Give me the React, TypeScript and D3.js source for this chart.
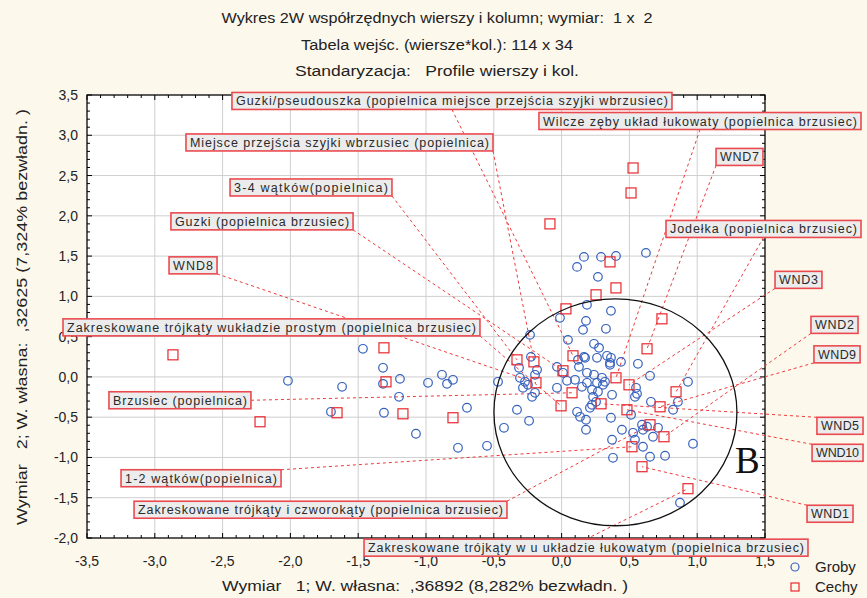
import React from 'react';
import * as d3 from 'd3';

// Row points (Groby)
const groby: [number, number][] = [
  [-2.018, -0.048], [-1.619, -0.123], [-1.465, 0.349], [-1.317, 0.113], [-1.317, -0.086],
  [-1.192, -0.024], [-1.199, -0.247], [-1.701, -0.433], [-1.310, -0.445], [-0.985, -0.073],
  [-0.882, 0.026], [-0.845, -0.086], [-0.801, -0.036], [-0.698, -0.383], [-1.074, -0.706],
  [-0.764, -0.880], [-0.550, -0.855], [-0.469, -0.061], [-0.425, -0.632], [-0.329, -0.408],
  [-0.240, -0.545], [-0.218, -0.247], [-0.314, 0.113], [-0.307, -0.011], [-0.270, -0.061],
  [-0.285, -0.135], [-0.248, -0.098], [-0.196, 0.026], [-0.226, 0.249], [-0.233, 0.522],
  [-0.181, 0.088], [-0.196, -0.197], [0.165, 1.490], [0.291, 1.490], [0.401, 1.502],
  [0.114, 1.366], [0.622, 1.540], [0.268, 1.242], [0.364, 0.820], [0.187, 0.895],
  [0.180, 0.696], [0.158, 0.584], [0.327, 0.597], [-0.012, 0.733], [0.047, 0.460],
  [0.239, 0.411], [0.276, 0.361], [0.165, 0.249], [0.121, 0.212], [0.261, 0.237],
  [0.335, 0.262], [0.364, 0.237], [0.357, 0.150], [0.438, 0.187], [0.563, 0.163],
  [0.652, 0.014], [0.932, -0.061], [-0.034, 0.125], [0.010, 0.051], [0.040, -0.048],
  [0.099, -0.036], [0.128, 0.125], [0.187, 0.051], [0.239, 0.026], [0.261, -0.073],
  [0.298, -0.011], [0.187, -0.073], [0.150, -0.123], [-0.034, -0.135], [0.224, -0.160],
  [0.268, -0.185], [0.372, -0.222], [0.549, -0.135], [0.556, -0.210], [0.541, -0.247],
  [0.254, -0.309], [0.224, -0.346], [0.659, -0.309], [0.858, -0.309], [0.822, -0.408],
  [0.114, -0.433], [0.136, -0.495], [0.180, -0.532], [0.180, -0.656], [0.364, -0.507],
  [0.445, -0.656], [0.372, -0.780], [0.527, -0.694], [0.600, -0.656], [0.630, -0.619],
  [0.711, -0.632], [0.541, -0.780], [0.969, -0.830], [0.652, -0.991], [0.763, -0.979],
  [0.873, -1.562], [0.379, -1.004], [0.593, -0.594], [0.512, -0.470], [0.674, -0.743],
  [0.600, -0.867], [0.320, -0.061], [0.232, -0.247], [0.209, -0.383], [0.305, -0.098],
  [0.173, 0.237], [0.357, 0.175],
];

// Column points (Cechy)
const cechy: [number, number][] = [
  [-2.866, 0.274], [-2.224, -0.557], [-1.656, -0.445], [-1.310, 0.361], [-1.295, -0.061],
  [-1.170, -0.458], [-0.801, -0.507], [-0.086, 1.900], [0.527, 2.594], [0.512, 2.284],
  [0.357, 1.428], [0.401, 1.105], [0.254, 1.019], [0.032, 0.845], [0.740, 0.721],
  [0.630, 0.349], [-0.329, 0.212], [-0.204, 0.187], [0.084, 0.262], [0.010, 0.076],
  [0.401, -0.011], [0.497, -0.098], [-0.189, -0.073], [0.077, -0.197], [0.844, -0.185],
  [-0.004, -0.359], [0.291, -0.334], [0.482, -0.408], [0.726, -0.371], [0.652, -0.594],
  [0.755, -0.743], [0.519, -0.867], [0.593, -1.115], [0.932, -1.388],
];

const labelTexts: string[] = [
  'Guzki/pseudouszka (popielnica miejsce przejścia szyjki wbrzusiec)',
  'Wilcze zęby układ łukowaty (popielnica brzusiec)',
  'Miejsce przejścia szyjki wbrzusiec (popielnica)',
  'WND7',
  '3-4 wątków(popielnica)',
  'Guzki (popielnica brzusiec)',
  'Jodełka (popielnica brzusiec)',
  'WND8',
  'WND3',
  'Zakreskowane trójkąty wukładzie prostym (popielnica brzusiec)',
  'WND2',
  'WND9',
  'Brzusiec (popielnica)',
  'WND5',
  'WND10',
  '1-2 wątków(popielnica)',
  'WND1',
  'Zakreskowane trójkąty i czworokąty (popielnica brzusiec)',
  'Zakreskowane trójkąty w u układzie łukowatym (popielnica brzusiec)',
];
// index (1-based) of the Cechy point each label refers to
const labelTargets: number[] = [19, 21, 18, 16, 17, 20, 25, 23, 22, 26, 31, 29, 24, 27, 28, 32, 33, 30, 34];

// label box placement: [left, right, centre-y] in data units
const labelBoxes: [number, number, number][] = [
  [-2.431, 0.814, 3.426], [-0.167, 2.208, 3.177], [-2.770, -0.506, 2.911], [1.139, 1.485, 2.731],
  [-2.445, -1.251, 2.352], [-2.881, -1.538, 1.931], [0.770, 2.208, 1.837], [-2.895, -2.541, 1.385],
  [1.574, 1.920, 1.205], [-3.677, -0.602, 0.615], [1.839, 2.186, 0.646], [1.861, 2.201, 0.280],
  [-3.338, -2.291, -0.290], [1.883, 2.223, -0.607], [1.847, 2.223, -0.942], [-3.249, -2.069, -1.258],
  [1.810, 2.149, -1.699], [-3.153, -0.403, -1.649], [-1.457, 1.817, -2.120],
];

const xTickValues = [-3.5, -3.0, -2.5, -2.0, -1.5, -1.0, -0.5, 0.0, 0.5, 1.0, 1.5];
const yTickValues = [-2.0, -1.5, -1.0, -0.5, 0.0, 0.5, 1.0, 1.5, 2.0, 2.5, 3.0, 3.5];

const titleLines = [
  'Wykres 2W współrzędnych wierszy i kolumn; wymiar:  1 x  2',
  'Tabela wejśc. (wiersze*kol.): 114 x 34',
  'Standaryzacja:   Profile wierszy i kol.',
];
const xTitle = 'Wymiar   1; W. własna:  ,36892 (8,282% bezwładn. )';
const yTitle = 'Wymiar   2; W. własna:  ,32625 (7,324% bezwładn. )';
const legendItems = ['Groby', 'Cechy'];

const W = 867;
const H = 598;
const SANS = 'Liberation Sans, Arial, sans-serif';
const BLUE = '#3561bd';
const RED = '#e8282e';

const fmt = (v: number) => v.toFixed(1).replace('.', ',');

export default function App() {
  const x = d3.scaleLinear().domain([-3.5, 1.5]).range([87, 765]);
  const y = d3.scaleLinear().domain([-2, 3.5]).range([538, 95]);
  const [x0, x1] = x.range();
  const [y0, y1] = y.range(); // y0 bottom, y1 top

  const minorX = d3.range(-3.5, 1.5001, 0.1);
  const minorY = d3.range(-2, 3.5001, 0.1);

  const boxH = 17;
  const labels = labelTexts.map((t, i) => {
    const [l, r, c] = labelBoxes[i];
    const bx0 = x(l), bx1 = x(r), cy = y(c);
    const by0 = cy - boxH / 2, by1 = cy + boxH / 2;
    const tgt = cechy[labelTargets[i] - 1];
    const tx = x(tgt[0]), ty = y(tgt[1]);
    const mx = (bx0 + bx1) / 2;
    const ax = tx < bx0 ? bx0 : tx > bx1 ? bx1 : mx;
    const ay = ty < by0 ? by0 : ty > by1 ? by1 : cy;
    return { t, bx0, bx1, by0, cy, ax, ay, tx, ty };
  });

  const ellCx = x(0.397), ellCy = y(-0.439);
  const ellRx = x(0.397 + 0.896) - ellCx;
  const ellRy = y(-0.439) - y(-0.439 + 1.409);

  return (
    <div style={{ position: 'absolute', left: 0, top: 0 }}>
      <svg width={W} height={H} style={{ display: 'block' }}>
        <rect x={0} y={0} width={W} height={H} fill="#fdf8ec" />
        {/* titles */}
        {titleLines.map((t, i) => (
          <text key={i} x={437} y={23 + i * 26.5} textAnchor="middle" fontFamily={SANS}
            fontSize={15.5} fill="#222" style={{ whiteSpace: 'pre' }}
            textLength={[431, 272, 284][i]} lengthAdjust="spacingAndGlyphs">{t}</text>
        ))}
        {/* plot area */}
        <rect x={x0} y={y1} width={x1 - x0} height={y0 - y1} fill="#fff" />
        {xTickValues.map((v) => (
          <line key={'gx' + v} x1={x(v)} x2={x(v)} y1={y1} y2={y0} stroke="#cfcfcf" strokeWidth={1} />
        ))}
        {yTickValues.map((v) => (
          <line key={'gy' + v} x1={x0} x2={x1} y1={y(v)} y2={y(v)} stroke="#cfcfcf" strokeWidth={1} />
        ))}
        {/* minor ticks */}
        {minorX.map((v, i) => {
          const len = i % 5 === 0 ? 5 : 3;
          return (
            <g key={'mx' + i}>
              <line x1={x(v)} x2={x(v)} y1={y0} y2={y0 - len} stroke="#000" />
              <line x1={x(v)} x2={x(v)} y1={y1} y2={y1 + len} stroke="#000" />
            </g>
          );
        })}
        {minorY.map((v, i) => {
          const len = i % 5 === 0 ? 5 : 3;
          return (
            <g key={'my' + i}>
              <line x1={x0} x2={x0 + len} y1={y(v)} y2={y(v)} stroke="#000" />
              <line x1={x1} x2={x1 - len} y1={y(v)} y2={y(v)} stroke="#000" />
            </g>
          );
        })}
        <rect x={x0} y={y1} width={x1 - x0} height={y0 - y1} fill="none" stroke="#000" strokeWidth={1.2} />
        {/* tick labels */}
        {xTickValues.map((v) => (
          <text key={'tx' + v} x={x(v)} y={566} textAnchor="middle" fontFamily={SANS} fontSize={14} fill="#222">{fmt(v)}</text>
        ))}
        {yTickValues.map((v) => (
          <text key={'ty' + v} x={78} y={y(v) + 5} textAnchor="end" fontFamily={SANS} fontSize={14} fill="#222">{fmt(v)}</text>
        ))}
        {/* axis titles */}
        <text x={425} y={591} textAnchor="middle" fontFamily={SANS} fontSize={14} fill="#222"
          style={{ whiteSpace: 'pre' }} textLength={406} lengthAdjust="spacingAndGlyphs">{xTitle}</text>
        <text transform={`translate(27,317) rotate(-90)`} textAnchor="middle" fontFamily={SANS} fontSize={14} fill="#222"
          style={{ whiteSpace: 'pre' }} textLength={416} lengthAdjust="spacingAndGlyphs">{yTitle}</text>
        {/* leader lines */}
        {labels.map((l, i) => (
          <line key={'ll' + i} x1={l.ax} y1={l.ay} x2={l.tx} y2={l.ty} stroke="#f03a3a" strokeWidth={1} strokeDasharray="3,3" />
        ))}
        {/* points */}
        {groby.map((p, i) => (
          <circle key={'g' + i} cx={x(p[0])} cy={y(p[1])} r={4.3} fill="none" stroke={BLUE} strokeWidth={1.2} />
        ))}
        {cechy.map((p, i) => (
          <rect key={'c' + i} x={x(p[0]) - 5} y={y(p[1]) - 5} width={10} height={10} fill="none" stroke={RED} strokeWidth={1.2} />
        ))}
        {/* annotation ellipse */}
        <ellipse cx={ellCx} cy={ellCy} rx={ellRx} ry={ellRy} fill="none" stroke="#111" strokeWidth={1.3} />
        <text x={x(1.279)} y={y(-1.19)} fontFamily="Liberation Serif, Times New Roman, serif" fontSize={37} fill="#111">B</text>
        {/* labels */}
        {labels.map((l, i) => (
          <g key={'lb' + i}>
            <rect x={l.bx0} y={l.by0} width={l.bx1 - l.bx0} height={boxH} fill="#ececec" stroke="#ea4a4f" strokeWidth={1.6} />
            <text x={l.bx0 + 4} y={l.cy + 4.5} fontFamily={SANS} fontSize={12.5} fill="#2a2a2a"
              textLength={l.bx1 - l.bx0 - 8} lengthAdjust="spacing">{l.t}</text>
          </g>
        ))}
        {/* legend */}
        <circle cx={795} cy={567} r={4} fill="none" stroke={BLUE} strokeWidth={1.2} />
        <text x={815} y={572} fontFamily={SANS} fontSize={15} fill="#222">{legendItems[0]}</text>
        <rect x={791} y={583} width={8} height={8} fill="none" stroke={RED} strokeWidth={1.2} />
        <text x={815} y={592} fontFamily={SANS} fontSize={15} fill="#222">{legendItems[1]}</text>
      </svg>
    </div>
  );
}
